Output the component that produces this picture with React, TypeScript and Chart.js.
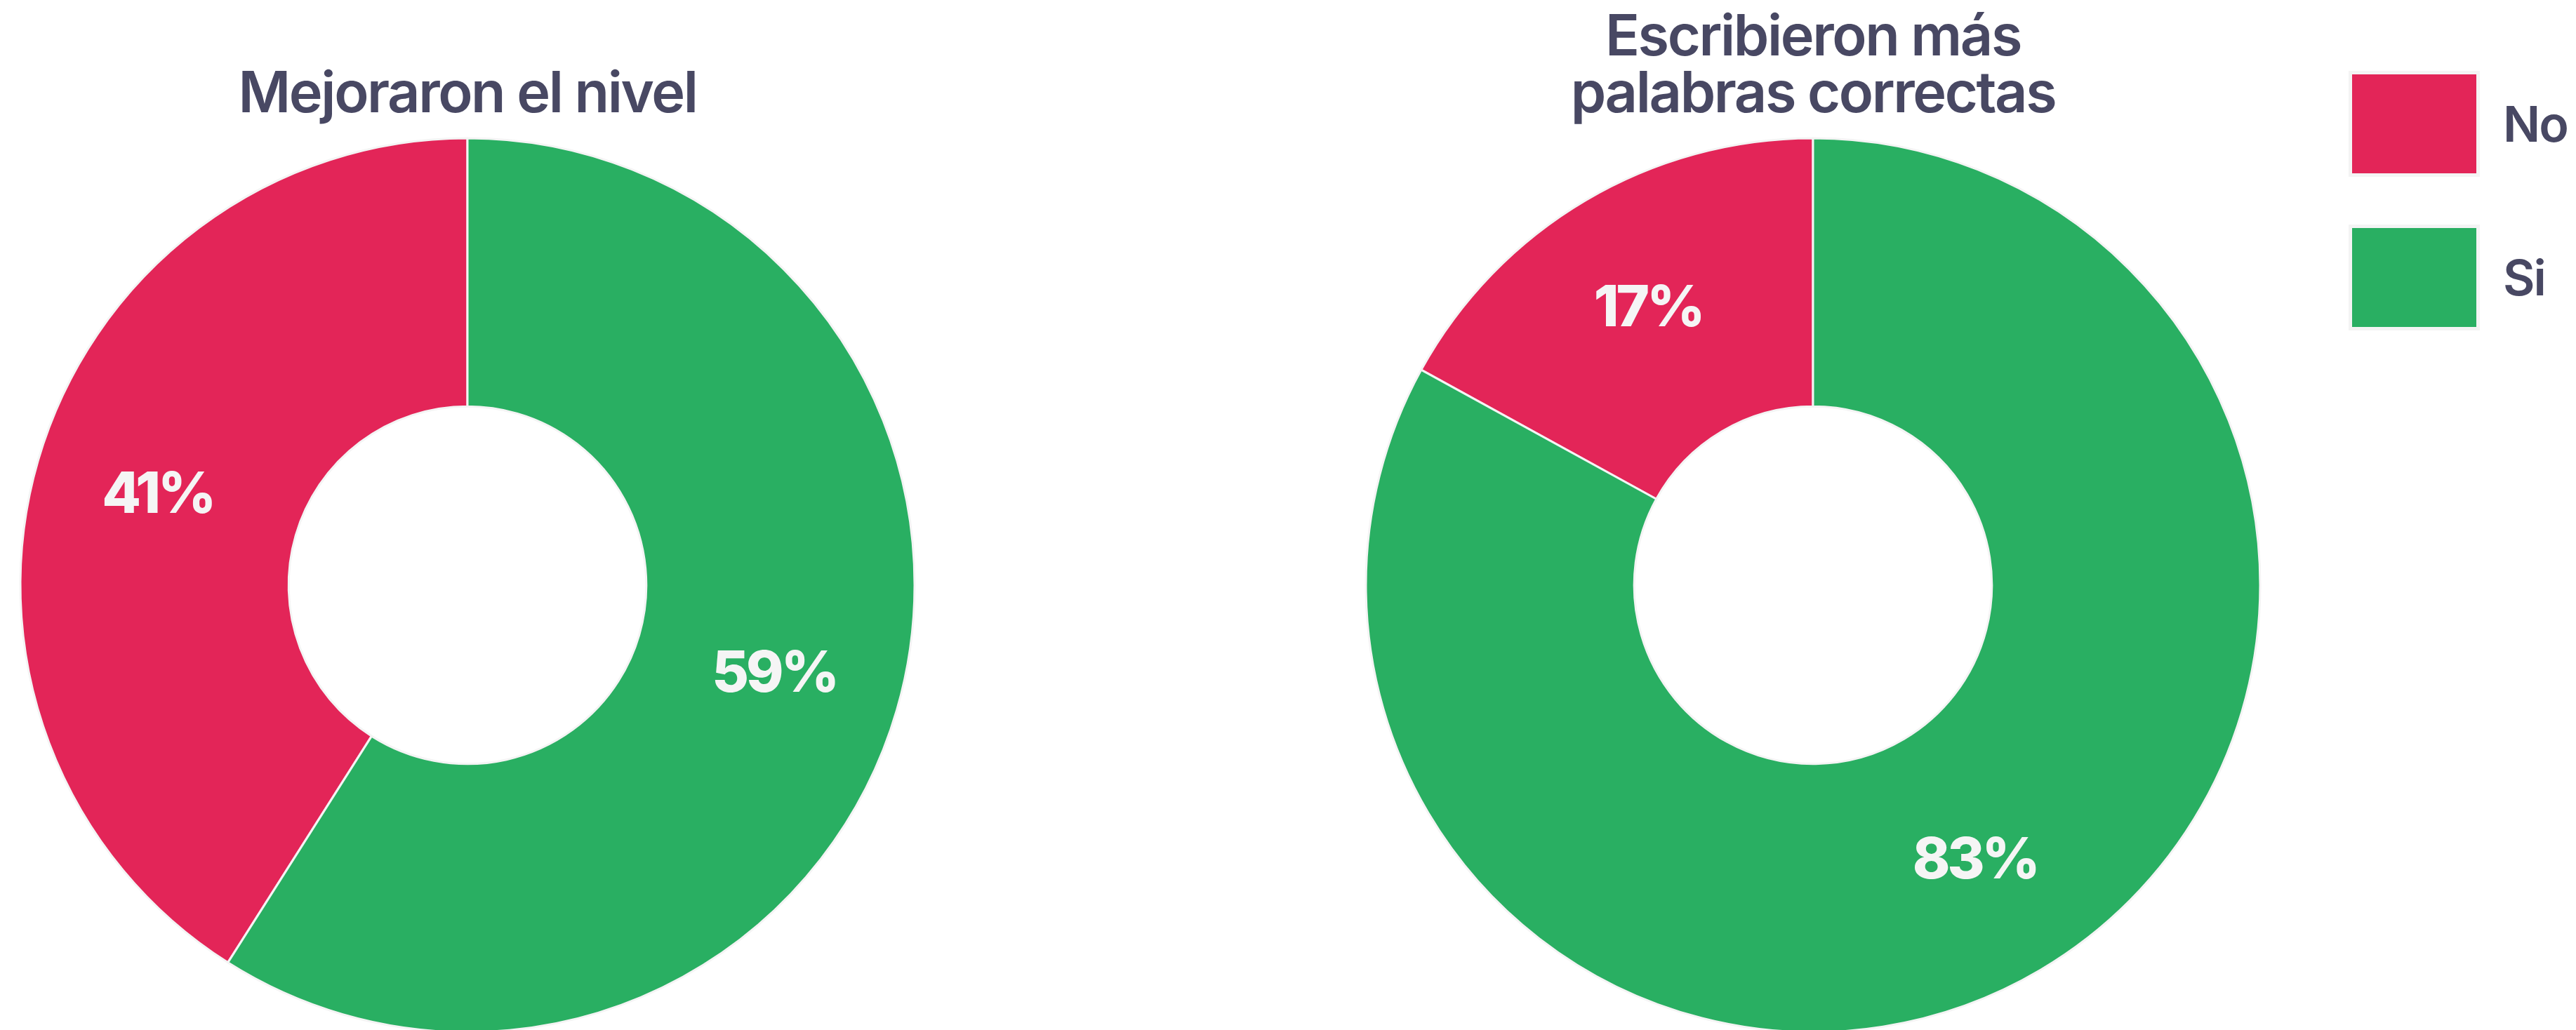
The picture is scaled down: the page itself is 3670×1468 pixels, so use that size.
import React, { useEffect, useRef } from "react";
import { Chart, registerables } from "chart.js";

Chart.register(...registerables);

const categories = ["No", "Si"];
const leftTitle = ["", "Mejoraron el nivel"];
const rightTitle = ["Escribieron más", "palabras correctas"];
const mejoraronValues = [41, 59];
const escribieronValues = [17, 83];
const sliceColors = ["#E32558", "#29AF62"];

const TEXT_COLOR = "#484863";
const LABEL_COLOR = "#F5F5F5";
const BORDER_COLOR = "#F4F4F4";
const FONT = "Inter, 'Noto Sans', sans-serif";

const tightText = {
  id: "tightText",
  beforeDraw(chart: any) {
    chart.ctx.letterSpacing = "-2.4px";
  },
};

const percentLabels = {
  id: "percentLabels",
  afterDatasetsDraw(chart: any) {
    const ctx = chart.ctx;
    const meta = chart.getDatasetMeta(0);
    const data = chart.data.datasets[0].data as number[];
    const total = data.reduce((a, b) => a + b, 0);
    ctx.save();
    ctx.font = `800 81px ${FONT}`;
    ctx.letterSpacing = "-4px";
    ctx.fillStyle = LABEL_COLOR;
    ctx.textAlign = "center";
    ctx.textBaseline = "middle";
    meta.data.forEach((arc: any, i: number) => {
      const p = arc.getProps(["x", "y", "startAngle", "endAngle", "innerRadius", "outerRadius"], true);
      const mid = (p.startAngle + p.endAngle) / 2;
      const r = p.innerRadius + 0.53 * (p.outerRadius - p.innerRadius);
      const x = p.x + Math.cos(mid) * r;
      const y = p.y + Math.sin(mid) * r;
      const pct = Math.round((data[i] / total) * 100);
      ctx.fillText(`${pct}%`, x - 2, y);
    });
    ctx.restore();
  },
};

function Donut({ values, title, left, width }: { values: number[]; title: string[]; left: number; width: number }) {
  const ref = useRef<HTMLCanvasElement | null>(null);
  useEffect(() => {
    if (!ref.current) return;
    const total = values.reduce((a, b) => a + b, 0);
    const chart = new Chart(ref.current, {
      type: "doughnut",
      data: {
        labels: categories,
        datasets: [
          {
            data: values,
            backgroundColor: sliceColors,
            borderColor: BORDER_COLOR,
            borderWidth: 3,
          },
        ],
      },
      options: {
        responsive: false,
        animation: false,
        rotation: -(values[0] / total) * 360,
        radius: 637,
        cutout: "40%",
        layout: { padding: 0 },
        plugins: {
          legend: { display: false },
          tooltip: { enabled: false },
          title: {
            display: true,
            text: title,
            color: TEXT_COLOR,
            font: { family: FONT, size: 81, weight: "600", lineHeight: 1 },
            padding: { top: 14, bottom: 21 },
          },
        },
      },
      plugins: [tightText, percentLabels],
    });
    return () => chart.destroy();
  }, [values, title]);
  return (
    <canvas
      ref={ref}
      width={width}
      height={1471}
      style={{ position: "absolute", left, top: 0, width, height: 1471 }}
    />
  );
}

export default function App() {
  return (
    <div
      style={{
        position: "fixed",
        left: 0,
        top: 0,
        width: 3670,
        height: 1468,
        overflow: "hidden",
        background: "#ffffff",
      }}
    >
      <Donut values={mejoraronValues} title={leftTitle} left={0} width={1332} />
      <Donut values={escribieronValues} title={rightTitle} left={1933} width={1300} />
      {categories.map((c, i) => (
        <React.Fragment key={c}>
          <div
            style={{
              position: "absolute",
              left: 3351,
              top: 106 + i * 219,
              width: 177,
              height: 141,
              background: sliceColors[i],
              boxShadow: `0 0 0 5px ${BORDER_COLOR}`,
            }}
          />
          <div
            style={{
              position: "absolute",
              left: 3566,
              top: 106 + i * 219,
              height: 141,
              lineHeight: "141px",
              fontFamily: FONT,
              fontWeight: 600,
              fontSize: 70,
              letterSpacing: "-2px",
              color: TEXT_COLOR,
              whiteSpace: "nowrap",
            }}
          >
            {c}
          </div>
        </React.Fragment>
      ))}
    </div>
  );
}
